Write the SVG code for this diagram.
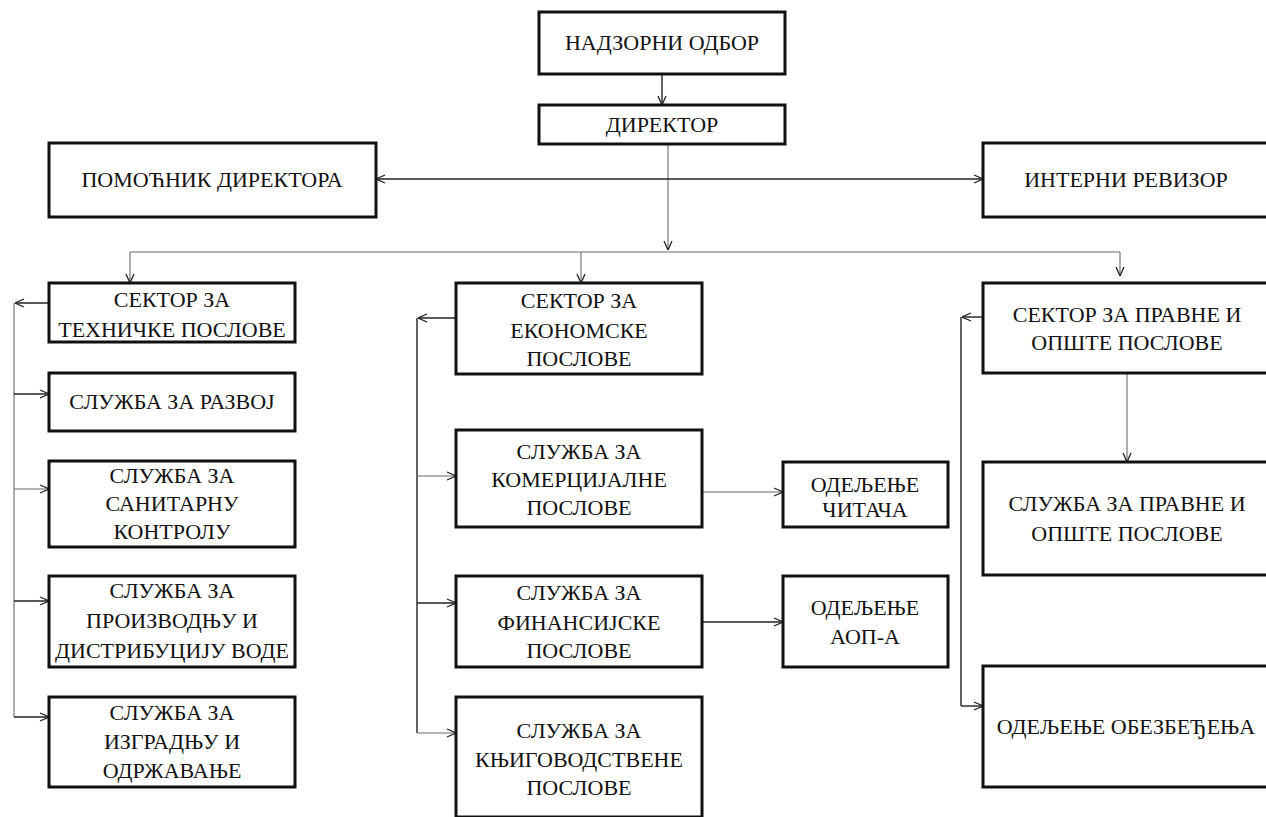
<svg xmlns="http://www.w3.org/2000/svg" width="1266" height="817" viewBox="0 0 1266 817">
<style>
.box{fill:#fff;stroke:#111;stroke-width:3}
.t{font-family:"Liberation Serif","Times New Roman",serif;font-size:22px;fill:#111;text-anchor:middle}
.c{fill:none;stroke:#222;stroke-width:1.4}
.g{fill:none;stroke:#6a6a6a;stroke-width:1.1}
</style>
<defs>
<marker id="ah" viewBox="0 0 10 10" refX="10" refY="5" markerWidth="10" markerHeight="10" markerUnits="userSpaceOnUse" orient="auto-start-reverse">
<path d="M1,1 L10,5 L1,9" fill="none" stroke="#222" stroke-width="1.3"/>
</marker>
</defs>
<rect width="1266" height="817" fill="#fff"/>
<g id="connectors">
<path class="c" d="M662,74 V105" marker-end="url(#ah)"/>
<path class="g" d="M668,144 V250" marker-end="url(#ah)"/>
<path class="c" d="M376,179 H983" marker-start="url(#ah)" marker-end="url(#ah)"/>
<path class="g" d="M130,252 H1120"/>
<path class="g" d="M130,252 V283" marker-end="url(#ah)"/>
<path class="g" d="M581,252 V283" marker-end="url(#ah)"/>
<path class="g" d="M1120,252 V276" marker-end="url(#ah)"/>
<path class="c" d="M49,303 H15" marker-end="url(#ah)"/>
<path class="g" d="M14,303 V717"/>
<path class="c" d="M14,394 H49" marker-end="url(#ah)"/>
<path class="g" d="M14,489 H49" marker-end="url(#ah)"/>
<path class="c" d="M14,601 H49" marker-end="url(#ah)"/>
<path class="c" d="M14,717 H49" marker-end="url(#ah)"/>
<path class="c" d="M456,318 H418" marker-end="url(#ah)"/>
<path class="c" d="M417,318 V733"/>
<path class="g" d="M417,476 H456" marker-end="url(#ah)"/>
<path class="c" d="M417,603 H456" marker-end="url(#ah)"/>
<path class="g" d="M417,733 H456" marker-end="url(#ah)"/>
<path class="g" d="M702,492 H783" marker-end="url(#ah)"/>
<path class="c" d="M702,622 H783" marker-end="url(#ah)"/>
<path class="c" d="M983,317 H962" marker-end="url(#ah)"/>
<path class="c" d="M961,317 V706"/>
<path class="c" d="M961,706 H983" marker-end="url(#ah)"/>
<path class="g" d="M1127,373 V462" marker-end="url(#ah)"/>
</g>
<g id="nadzorni"><rect class="box" x="539" y="12" width="246" height="62"/><text class="t" x="662" y="50">НАДЗОРНИ ОДБОР</text></g>
<g id="direktor"><rect class="box" x="539" y="105" width="246" height="39"/><text class="t" x="662" y="132">ДИРЕКТОР</text></g>
<g id="pomocnik"><rect class="box" x="49" y="143" width="327" height="74"/><text class="t" x="212" y="187">ПОМОЋНИК ДИРЕКТОРА</text></g>
<g id="interni"><rect class="box" x="983" y="143" width="290" height="74"/><text class="t" x="1126" y="187">ИНТЕРНИ РЕВИЗОР</text></g>
<g id="sektor-tehnicke"><rect class="box" x="49" y="283" width="246" height="59"/><text class="t" x="172" y="307">СЕКТОР ЗА</text><text class="t" x="172" y="337">ТЕХНИЧКЕ ПОСЛОВЕ</text></g>
<g id="razvoj"><rect class="box" x="49" y="373" width="246" height="58"/><text class="t" x="172" y="409">СЛУЖБА ЗА РАЗВОЈ</text></g>
<g id="sanitarna"><rect class="box" x="49" y="461" width="246" height="86"/><text class="t" x="172" y="483">СЛУЖБА ЗА</text><text class="t" x="172" y="511">САНИТАРНУ</text><text class="t" x="172" y="539">КОНТРОЛУ</text></g>
<g id="proizvodnja"><rect class="box" x="49" y="576" width="246" height="91"/><text class="t" x="172" y="598">СЛУЖБА ЗА</text><text class="t" x="172" y="628">ПРОИЗВОДЊУ И</text><text class="t" x="172" y="658">ДИСТРИБУЦИЈУ ВОДЕ</text></g>
<g id="izgradnja"><rect class="box" x="49" y="697" width="246" height="90"/><text class="t" x="172" y="720">СЛУЖБА ЗА</text><text class="t" x="172" y="749">ИЗГРАДЊУ И</text><text class="t" x="172" y="778">ОДРЖАВАЊЕ</text></g>
<g id="sektor-ekonomske"><rect class="box" x="456" y="283" width="246" height="91"/><text class="t" x="579" y="308">СЕКТОР ЗА</text><text class="t" x="579" y="338">ЕКОНОМСКЕ</text><text class="t" x="579" y="366">ПОСЛОВЕ</text></g>
<g id="komercijalne"><rect class="box" x="456" y="430" width="246" height="97"/><text class="t" x="579" y="459">СЛУЖБА ЗА</text><text class="t" x="579" y="487">КОМЕРЦИЈАЛНЕ</text><text class="t" x="579" y="515">ПОСЛОВЕ</text></g>
<g id="citaci"><rect class="box" x="783" y="462" width="165" height="65"/><text class="t" x="865" y="492">ОДЕЉЕЊЕ</text><text class="t" x="865" y="517">ЧИТАЧА</text></g>
<g id="finansijske"><rect class="box" x="456" y="576" width="246" height="91"/><text class="t" x="579" y="600">СЛУЖБА ЗА</text><text class="t" x="579" y="630">ФИНАНСИЈСКЕ</text><text class="t" x="579" y="658">ПОСЛОВЕ</text></g>
<g id="aop"><rect class="box" x="783" y="576" width="165" height="91"/><text class="t" x="865" y="615">ОДЕЉЕЊЕ</text><text class="t" x="865" y="644">АОП-А</text></g>
<g id="knjigovodstvene"><rect class="box" x="456" y="697" width="246" height="120"/><text class="t" x="579" y="738">СЛУЖБА ЗА</text><text class="t" x="579" y="767">КЊИГОВОДСТВЕНЕ</text><text class="t" x="579" y="795">ПОСЛОВЕ</text></g>
<g id="sektor-pravne"><rect class="box" x="983" y="283" width="290" height="90"/><text class="t" x="1127" y="322">СЕКТОР ЗА ПРАВНЕ И</text><text class="t" x="1127" y="350">ОПШТЕ ПОСЛОВЕ</text></g>
<g id="sluzba-pravne"><rect class="box" x="983" y="462" width="290" height="113"/><text class="t" x="1127" y="511">СЛУЖБА ЗА ПРАВНЕ И</text><text class="t" x="1127" y="541">ОПШТЕ ПОСЛОВЕ</text></g>
<g id="obezbedjenje"><rect class="box" x="983" y="666" width="290" height="121"/><text class="t" x="1126" y="734">ОДЕЉЕЊЕ ОБЕЗБЕЂЕЊА</text></g>
</svg>
